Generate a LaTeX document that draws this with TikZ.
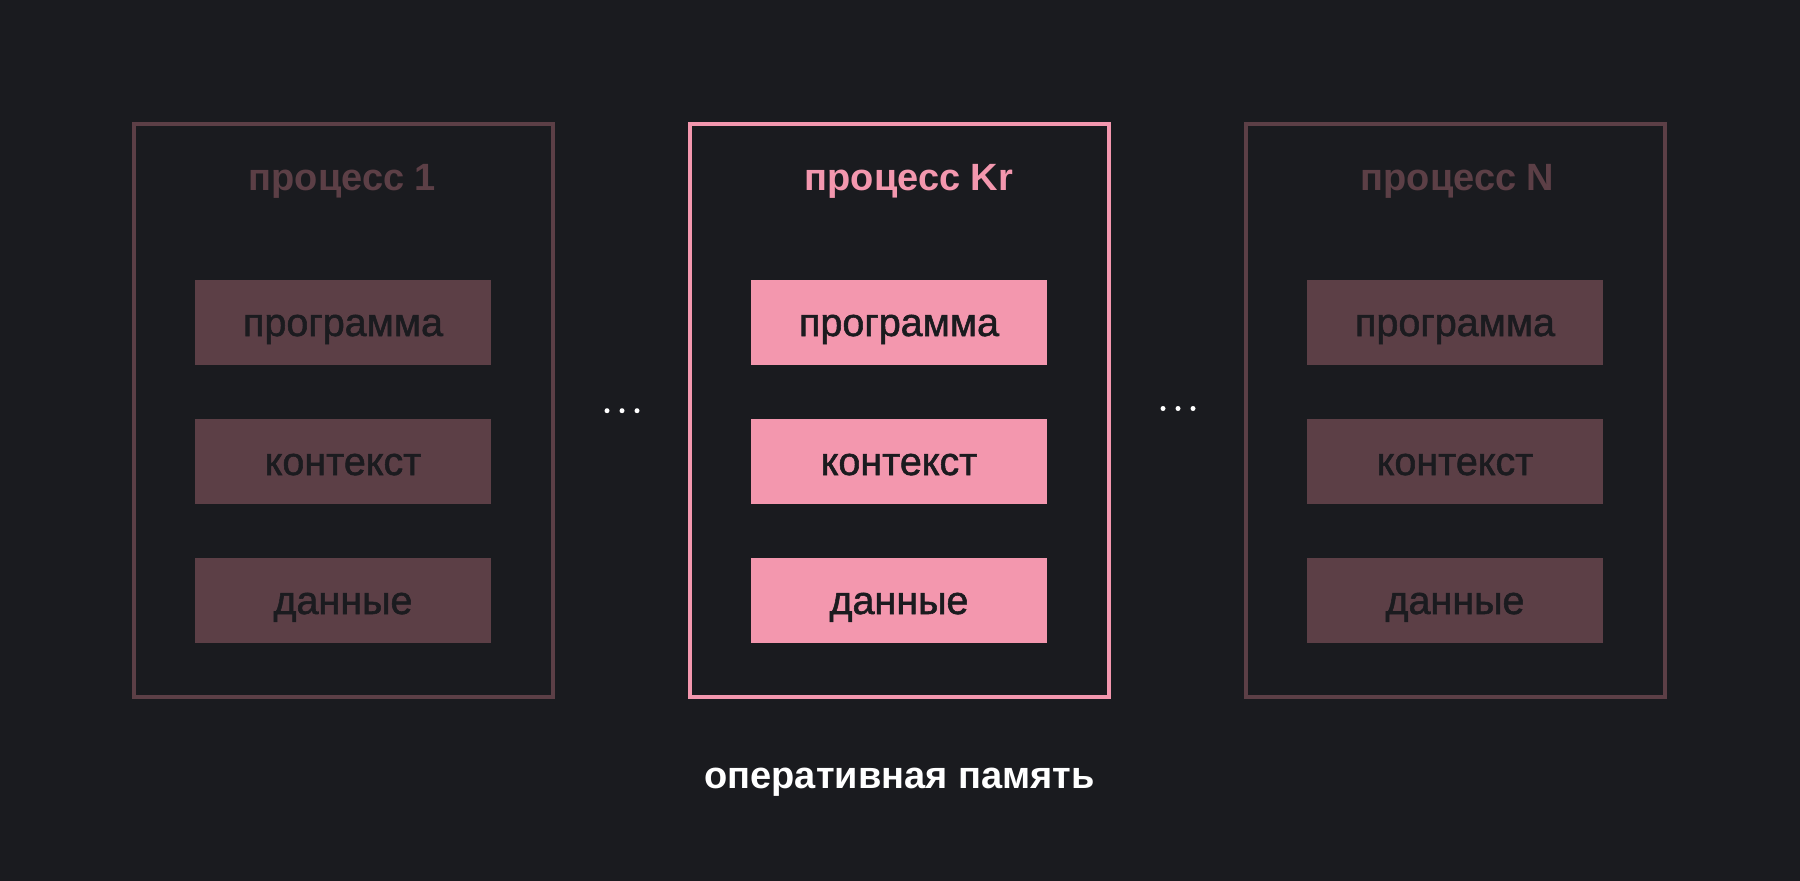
\documentclass[tikz,border=0pt]{standalone}
\usepackage{fontspec}
\setmainfont{Liberation Sans}
\newfontfamily\medfont[FakeBold=1.4]{Liberation Sans}
\usetikzlibrary{calc}
\definecolor{bgc}{HTML}{1A1B1F}
\definecolor{dimc}{HTML}{5C3F46}
\definecolor{pinkc}{HTML}{F397AE}
\definecolor{darkt}{HTML}{1B1B1F}
\tikzset{
  procbox/.style={draw, line width=4pt, rectangle, inner sep=0pt, outer sep=0pt, minimum width=419pt, minimum height=573pt},
  titletext/.style={anchor=base west, inner sep=0pt, font=\fontsize{38}{40}\selectfont\bfseries},
  itembox/.style={rectangle, inner sep=0pt, outer sep=0pt, minimum width=296pt, minimum height=85pt, text height=27pt, text depth=0pt, text=darkt, font=\fontsize{39.5}{42}\medfont},
  dotnode/.style={circle, fill=white, inner sep=0pt, minimum size=5pt},
  memtext/.style={anchor=base, inner sep=0pt, text=white, font=\fontsize{38}{40}\selectfont\bfseries}
}
\begin{document}
\begin{tikzpicture}[x=1pt,y=-1pt]
\fill[bgc] (0,0) rectangle (1800,881);
\useasboundingbox (0,0) rectangle (1800,881);
% process boxes
\node[procbox, draw=dimc] (p1) at (343.5,410.5) {};
\node[procbox, draw=pinkc] (pk) at (899.5,410.5) {};
\node[procbox, draw=dimc] (pn) at (1455.5,410.5) {};
% titles
\node[titletext, text=dimc] (t1) at ($(p1.north west)+(114.5,66)$) {процесс 1};
\node[titletext, text=pinkc] (tk) at ($(pk.north west)+(114.5,66)$) {процесс Kr};
\node[titletext, text=dimc] (tn) at ($(pn.north west)+(114.5,66)$) {процесс N};
% items
\foreach \b/\c in {p1/dimc, pk/pinkc, pn/dimc}{
  \node[itembox, fill=\c] (\b-prog) at ($(\b.north)+(-0.5,198.5)$) {программа};
  \node[itembox, fill=\c] (\b-ctx) at ($(\b.north)+(-0.5,337.5)$) {контекст};
  \node[itembox, fill=\c] (\b-data) at ($(\b.north)+(-0.5,476.5)$) {данные};
}
% dots
\node[dotnode] (da1) at (607,410.7) {};
\node[dotnode] (da2) at (622,410.7) {};
\node[dotnode] (da3) at (637,410.7) {};
\node[dotnode] (db1) at (1163,408.5) {};
\node[dotnode] (db2) at (1178,408.5) {};
\node[dotnode] (db3) at (1193,408.5) {};
% bottom label
\node[memtext] (mem) at (899.5,788) {оперативная память};
\end{tikzpicture}
\end{document}
